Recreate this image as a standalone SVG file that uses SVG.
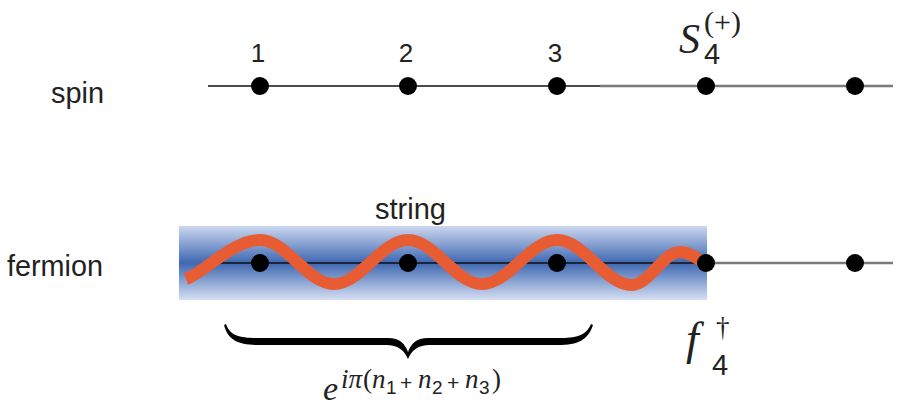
<svg xmlns="http://www.w3.org/2000/svg" width="912" height="418" viewBox="0 0 912 418">
  <style>
    .lbl { font-family: "Liberation Sans", Arial, sans-serif; font-size: 30px; fill: #222; }
    .num { font-family: "Liberation Sans", Arial, sans-serif; font-size: 26px; fill: #222; text-anchor: middle; }
    .math { font-family: "Liberation Serif", "Times New Roman", serif; font-style: italic; fill: #222; }
    .up { font-family: "Liberation Serif", "Times New Roman", serif; fill: #222; }
    .sub { font-family: "Liberation Sans", Arial, sans-serif; fill: #222; }
    .dot { fill: #000; }
    .wire { stroke: #111; stroke-width: 1.6; fill: none; }
    .wire2 { stroke: #7a7a7a; stroke-width: 2.4; fill: none; }
  </style>
  <defs>
    <linearGradient id="blue" x1="0" y1="0" x2="0" y2="1">
      <stop offset="0" stop-color="#cbd7ef"/>
      <stop offset="0.5" stop-color="#3f68b2"/>
      <stop offset="1" stop-color="#d6dff3"/>
    </linearGradient>
  </defs>

  <g id="string-band">
    <rect x="179" y="226" width="528" height="74" fill="url(#blue)"/>
  </g>

  <g id="connectors">
    <line class="wire" x1="208" y1="86" x2="600" y2="86"/>
    <line class="wire2" x1="600" y1="86" x2="893" y2="86"/>
    <line class="wire" x1="215" y1="263" x2="706" y2="263"/>
    <line class="wire2" x1="706" y1="263" x2="893" y2="263"/>
  </g>

  <g id="spin-label"><text class="lbl" x="51" y="103" textLength="53" lengthAdjust="spacingAndGlyphs">spin</text></g>
  <g id="fermion-label"><text class="lbl" x="7" y="276" textLength="96" lengthAdjust="spacingAndGlyphs">fermion</text></g>

  <g id="spin-1"><circle class="dot" cx="260" cy="86" r="9"/><text class="num" x="258" y="62">1</text></g>
  <g id="spin-2"><circle class="dot" cx="408" cy="86" r="9"/><text class="num" x="406" y="62">2</text></g>
  <g id="spin-3"><circle class="dot" cx="557" cy="86" r="9"/><text class="num" x="555" y="62">3</text></g>
  <g id="spin-4"><circle class="dot" cx="706" cy="86" r="9"/>
    <text class="math" x="679" y="53" font-size="42">S</text>
    <text class="up" x="704" y="32" font-size="30">(+)</text>
    <text class="sub" x="704" y="64" font-size="29">4</text>
  </g>
  <g id="spin-5"><circle class="dot" cx="855" cy="86" r="9"/></g>

  <g id="string-label"><text class="lbl" x="375" y="219" textLength="71" lengthAdjust="spacingAndGlyphs">string</text></g>

  <g id="wave">
    <path d="M186,279 C205,272 233,240 260,240 C287,240 307,284 334,284 C361,284 381,240 408,240 C435,240 455,284 482,284 C509,284 530,240 557,240 C584,240 605,285 632,285 C649,285 663,252 680,252 C690,252 698,259 706,264" fill="none" stroke="#e85c34" stroke-width="12"/>
  </g>

  <g id="fermion-1"><circle class="dot" cx="260" cy="263" r="9"/></g>
  <g id="fermion-2"><circle class="dot" cx="408" cy="263" r="9"/></g>
  <g id="fermion-3"><circle class="dot" cx="557" cy="263" r="9"/></g>
  <g id="fermion-4"><circle class="dot" cx="706" cy="263" r="9"/>
    <text class="math" x="686" y="354" font-size="46">f</text>
    <text class="up" x="716" y="336" font-size="27">†</text>
    <text class="sub" x="712" y="375" font-size="29">4</text>
  </g>
  <g id="fermion-5"><circle class="dot" cx="855" cy="263" r="9"/></g>

  <g id="brace">
    <path d="M226,324 C230,336 240,338 258,338 L388,338 C400,338 405,344 408,352 C411,344 416,338 428,338 L558,338 C576,338 586,336 591,324 L593,325 C588,340 578,345 558,345 L430,345 C418,345 412,350 408,359 C404,350 398,345 386,345 L258,345 C238,345 228,340 224,325 Z" fill="#000"/>
  </g>

  <g id="phase">
    <text class="math" x="323" y="400" font-size="34">e</text>
    <text class="math" x="341" y="388" font-size="27">iπ</text>
    <text class="up" x="363" y="388" font-size="27">(</text>
    <text class="math" x="372" y="388" font-size="27">n</text>
    <text class="sub" x="386" y="394" font-size="19">1</text>
    <text class="sub" x="400" y="390" font-size="21">+</text>
    <text class="math" x="418" y="388" font-size="27">n</text>
    <text class="sub" x="432" y="394" font-size="19">2</text>
    <text class="sub" x="447" y="390" font-size="21">+</text>
    <text class="math" x="465" y="388" font-size="27">n</text>
    <text class="sub" x="479" y="394" font-size="19">3</text>
    <text class="up" x="492" y="388" font-size="27">)</text>
  </g>
</svg>
